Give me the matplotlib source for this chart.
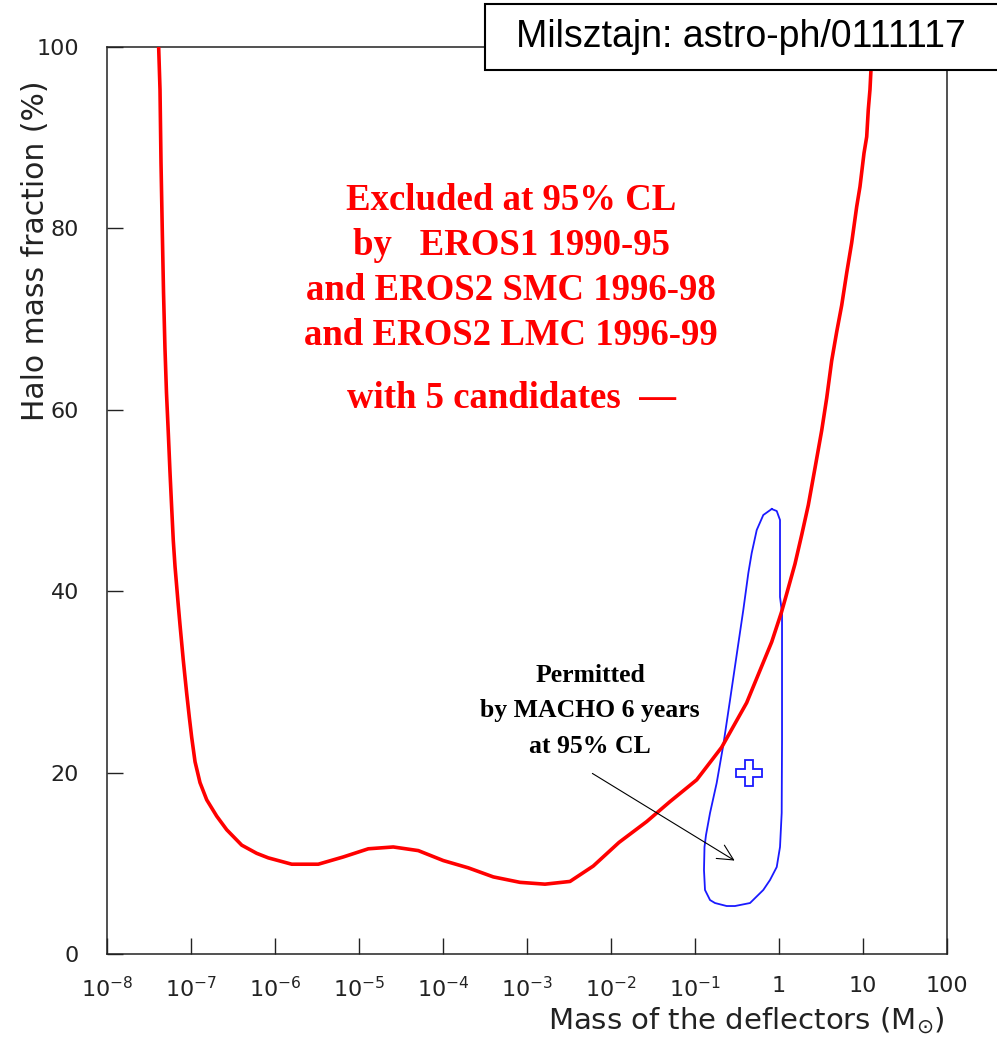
import numpy as np
import matplotlib
matplotlib.use("Agg")
import matplotlib.pyplot as plt
from matplotlib.patches import Rectangle
from matplotlib.ticker import NullLocator

# ---------------- data ----------------
# EROS exclusion curve (95% CL): log10(mass / Msun), halo fraction (%)
eros_log10_mass = [-7.385, -7.369, -7.357, -7.342, -7.327, -7.310, -7.292, -7.270,
                   -7.250, -7.230, -7.211, -7.190, -7.170, -7.151, -7.131, -7.111,
                   -7.092, -7.071, -7.051, -7.020, -6.992, -6.952, -6.893, -6.813,
                   -6.694, -6.575, -6.396, -6.218, -6.080, -5.801, -5.485, -5.187,
                   -4.889, -4.592, -4.294, -3.996, -3.699, -3.401, -3.083, -2.786,
                   -2.488, -2.211, -1.905, -1.575, -1.298, -0.980, -0.682, -0.385,
                   -0.087, 0.030, 0.091, 0.190, 0.270, 0.349, 0.429, 0.508, 0.568,
                   0.627, 0.687, 0.746, 0.806, 0.865, 0.925, 0.964, 1.012, 1.044,
                   1.063, 1.083, 1.095, 1.110]
eros_fraction = [100.0, 95.3, 87.2, 79.8, 72.9, 66.8, 61.9, 57.4,
                 53.1, 49.2, 45.6, 42.7, 40.5, 38.4, 36.3, 34.3,
                 32.4, 30.5, 28.7, 26.1, 23.9, 21.2, 18.9, 17.0,
                 15.2, 13.7, 12.0, 11.1, 10.6, 9.9, 9.9, 10.7,
                 11.6, 11.8, 11.4, 10.3, 9.5, 8.5, 7.9, 7.7,
                 8.0, 9.7, 12.3, 14.6, 16.8, 19.2, 22.8, 27.7,
                 34.4, 37.7, 39.7, 43.0, 46.2, 49.5, 53.6, 57.7, 61.3,
                 65.4, 68.6, 71.5, 75.1, 78.4, 82.4, 84.6, 88.3, 90.1,
                 93.1, 95.3, 97.5, 100.0]

# MACHO 6-year permitted region (95% CL), closed contour
macho_log10_mass = [-0.087, -0.027, 0.012, 0.012, 0.036, 0.036, 0.032, 0.012,
                    -0.027, -0.107, -0.187, -0.345, -0.524, -0.623, -0.762, -0.821,
                    -0.881, -0.893, -0.887, -0.869, -0.821, -0.742, -0.663, -0.583,
                    -0.504, -0.425, -0.365, -0.325, -0.265, -0.187, -0.087]
macho_fraction = [49.06, 48.84, 47.85, 39.36, 37.60, 23.59, 15.55, 11.80,
                  9.59, 8.16, 7.06, 5.62, 5.29, 5.29, 5.62, 5.95,
                  7.06, 9.26, 11.80, 13.12, 15.55, 18.85, 23.04, 28.00,
                  32.97, 37.93, 42.01, 44.21, 46.75, 48.40, 49.06]

# MACHO best fit
macho_best_mass = [0.44]
macho_best_fraction = [20.0]

x_ticks = [1e-8, 1e-7, 1e-6, 1e-5, 1e-4, 1e-3, 1e-2, 1e-1, 1, 10, 100]
x_tick_labels = ['$10^{-8}$', '$10^{-7}$', '$10^{-6}$', '$10^{-5}$', '$10^{-4}$',
                 '$10^{-3}$', '$10^{-2}$', '$10^{-1}$', '1', '10', '100']
y_ticks = [0, 20, 40, 60, 80, 100]
y_tick_labels = ['0', '20', '40', '60', '80', '100']

# ---------------- plot ----------------
plt.rcParams['font.family'] = ['DejaVu Sans']
plt.rcParams['mathtext.default'] = 'regular'

fig = plt.figure(figsize=(9.97, 10.44), dpi=100)
ax = fig.add_axes([107/997, 1 - 954/1044, 840/997, 907/1044])

ax.set_xscale('log')
ax.set_xlim(1e-8, 100)
ax.set_ylim(0, 100)

ax.plot(10 ** np.array(eros_log10_mass), eros_fraction, color='#ff0000', lw=2.6,
        solid_joinstyle='round', zorder=3)
ax.plot(10 ** np.array(macho_log10_mass), macho_fraction, color='#1a1aff', lw=1.3, zorder=2)
ax.plot(macho_best_mass, macho_best_fraction, marker='P', ms=19, fillstyle='none',
        mec='#1a1aff', mew=1.3, ls='none', zorder=2)

ax.set_xticks(x_ticks)
ax.set_xticklabels(x_tick_labels)
ax.xaxis.set_minor_locator(NullLocator())
ax.set_yticks(y_ticks)
ax.set_yticklabels(y_tick_labels)
ax.tick_params(axis='both', which='major', direction='in', length=11.5, width=1.0,
               labelsize=16, colors='#222222')
ax.tick_params(axis='x', pad=16)
ax.tick_params(axis='y', pad=20)
for s in ax.spines.values():
    s.set_linewidth(1.1)
    s.set_color('#222222')

ax.set_xlabel(r'Mass of the deflectors ($M_{\odot}$)', fontsize=21, loc='right',
              color='#222222')
ax.xaxis.set_label_coords(0.998, -0.057)
ax.set_ylabel('Halo mass fraction (%)', fontsize=21.5, loc='top', color='#222222')
ax.yaxis.set_label_coords(-0.068, 0.9636)

# red annotation
red_lines = ['Excluded at 95% CL', 'by   EROS1 1990-95', 'and EROS2 SMC 1996-98',
             'and EROS2 LMC 1996-99', 'with 5 candidates  \u2014']
red_base = [0.8203, 0.7707, 0.7211, 0.6714, 0.6020]
for t, yb in zip(red_lines, red_base):
    ax.text(0.481, yb, t, transform=ax.transAxes, ha='center', va='baseline',
            color='#ff0000', fontsize=26.5, fontweight='bold', family='Liberation Serif')

# black annotation
blk_lines = ['Permitted', 'by MACHO 6 years', 'at 95% CL']
blk_base = [0.2999, 0.2613, 0.2216]
for t, yb in zip(blk_lines, blk_base):
    ax.text(0.575, yb, t, transform=ax.transAxes, ha='center', va='baseline',
            color='black', fontsize=18.5, fontweight='bold', family='Liberation Serif')

ax.annotate('', xy=(10 ** -0.5, 10.14), xytext=(10 ** -2.25, 20.07),
            arrowprops=dict(arrowstyle='->', lw=0.8, color='black', mutation_scale=28))

# reference box
fig.patches.append(Rectangle((485/997, 1 - 70/1044), 0.52, 66/1044,
                             transform=fig.transFigure, facecolor='white',
                             edgecolor='black', lw=1.5, zorder=10))
fig.text(740.5/997, 1 - 37/1044, 'Milsztajn: astro-ph/0111117', ha='center', va='center',
         fontsize=27, family='Liberation Sans', color='black', zorder=11)

fig.savefig('out.png', dpi=100)
